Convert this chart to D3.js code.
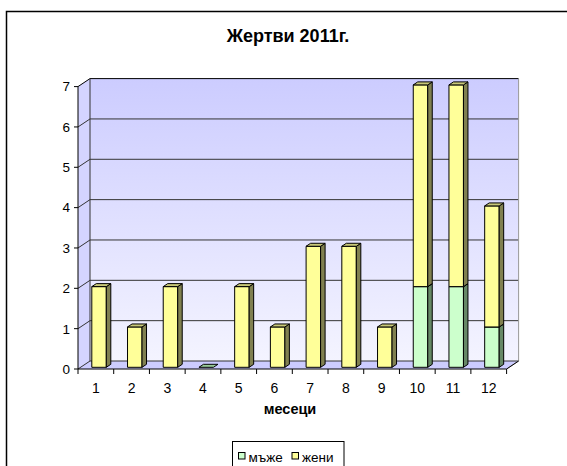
<!DOCTYPE html>
<html>
<head>
<meta charset="utf-8">
<script src="https://cdn.jsdelivr.net/npm/d3@7"></script>
<style>
  body { margin: 0; background: #fff; }
  svg { display: block; font-family: "Liberation Sans", Arial, sans-serif; }
</style>
</head>
<body>
<svg id="chart" width="567" height="466"></svg>
<script>
// data
var months = ["1", "2", "3", "4", "5", "6", "7", "8", "9", "10", "11", "12"];
var men = [0, 0, 0, 0, 0, 0, 0, 0, 0, 2, 2, 1];
var women = [2, 1, 2, 0, 2, 1, 3, 3, 1, 5, 5, 3];
var seriesNames = ["мъже", "жени"];
var yTicks = [0, 1, 2, 3, 4, 5, 6, 7];

var svg = d3.select("#chart");

// front plane + depth of the 3d box
var plotLeft = 78, plotRight = 506.6, plotBottom = 369, plotTop = 86.6;
var depth = { x: 12, y: -8 };
var barDepth = { x: 4.5, y: -3 };

var x = d3.scaleBand().domain(months).range([plotLeft, plotRight]).padding(0);
var y = d3.scaleLinear().domain([0, 7]).range([plotBottom, plotTop]);

var colors = [
    { front: "#ccffcc", side: "#668866", top: "#99cc99" },
    { front: "#ffff99", side: "#808050", top: "#c8c878" }
];

// outer chart frame
svg.append("rect")
    .attr("x", 6.5).attr("y", 11.5)
    .attr("width", 620).attr("height", 500)
    .attr("fill", "none").attr("stroke", "#000").attr("stroke-width", 1.5);

var defs = svg.append("defs");
var grad = defs.append("linearGradient")
    .attr("id", "wall").attr("x1", 0).attr("y1", 0).attr("x2", 0).attr("y2", 1);
grad.append("stop").attr("offset", "0%").attr("stop-color", "#ccccff");
grad.append("stop").attr("offset", "100%").attr("stop-color", "#f4f4ff");

var line = d3.line();

// back wall
svg.append("rect")
    .attr("x", plotLeft + depth.x).attr("y", plotTop + depth.y)
    .attr("width", plotRight - plotLeft).attr("height", plotBottom - plotTop)
    .attr("fill", "url(#wall)");

// left wall
svg.append("path")
    .attr("d", line([[plotLeft, plotBottom], [plotLeft + depth.x, plotBottom + depth.y],
        [plotLeft + depth.x, plotTop + depth.y], [plotLeft, plotTop]]) + "Z")
    .attr("fill", "#d4d4ff");

// floor
svg.append("path")
    .attr("d", line([[plotLeft, plotBottom], [plotRight, plotBottom],
        [plotRight + depth.x, plotBottom + depth.y], [plotLeft + depth.x, plotBottom + depth.y]]) + "Z")
    .attr("fill", "#ccccff");

// grid lines on the walls
yTicks.forEach(function (t) {
    svg.append("path")
        .attr("d", line([[plotLeft, y(t)], [plotLeft + depth.x, y(t) + depth.y], [plotRight + depth.x, y(t) + depth.y]]))
        .attr("fill", "none")
        .attr("stroke", t === 7 ? "#000" : "#333")
        .attr("stroke-width", 1);
});

// wall edges
svg.append("path")
    .attr("d", line([[plotRight + depth.x, plotTop + depth.y], [plotRight + depth.x, plotBottom + depth.y], [plotRight, plotBottom]]))
    .attr("fill", "none").attr("stroke", "#999");
svg.append("path")
    .attr("d", line([[plotLeft + depth.x, plotTop + depth.y], [plotLeft + depth.x, plotBottom + depth.y]]))
    .attr("fill", "none").attr("stroke", "#333");

// y axis
svg.append("line")
    .attr("x1", plotLeft).attr("x2", plotLeft).attr("y1", plotTop).attr("y2", plotBottom)
    .attr("stroke", "#000");
yTicks.forEach(function (t) {
    svg.append("line")
        .attr("x1", plotLeft - 4).attr("x2", plotLeft).attr("y1", y(t)).attr("y2", y(t))
        .attr("stroke", "#000");
    svg.append("text")
        .attr("x", plotLeft - 8).attr("y", y(t)).attr("dy", "0.36em")
        .attr("text-anchor", "end").attr("font-size", 13.5)
        .text(t);
});

// x axis
svg.append("line")
    .attr("x1", plotLeft).attr("x2", plotRight).attr("y1", plotBottom).attr("y2", plotBottom)
    .attr("stroke", "#000");
svg.append("line")
    .attr("x1", plotRight).attr("x2", plotRight + depth.x).attr("y1", plotBottom).attr("y2", plotBottom + depth.y)
    .attr("stroke", "#000");
months.forEach(function (m) {
    svg.append("line")
        .attr("x1", x(m)).attr("x2", x(m)).attr("y1", plotBottom).attr("y2", plotBottom + 5)
        .attr("stroke", "#000");
    svg.append("text")
        .attr("x", x(m) + x.bandwidth() / 2).attr("y", 393)
        .attr("text-anchor", "middle").attr("font-size", 14)
        .text(m);
});
svg.append("line")
    .attr("x1", plotRight).attr("x2", plotRight).attr("y1", plotBottom).attr("y2", plotBottom + 5)
    .attr("stroke", "#000");

// stacked 3d bars
var series = [men, women];
var bw = 14.5, bOff = 13.8, lift = -1.7;
months.forEach(function (m, i) {
    var total = men[i] + women[i];
    var base = 0;
    series.forEach(function (s, k) {
        var v = s[i];
        if (v === 0 && !(k === 0 && total === 0)) return;
        var x0 = x(m) + bOff, x1 = x0 + bw;
        var yb = y(base) + lift, yt = y(base + v) + lift;
        var c = colors[k];
        var g = svg.append("g").attr("stroke", "#000").attr("stroke-width", 1).attr("stroke-linejoin", "round");
        if (v > 0) {
            g.append("rect")
                .attr("x", x0).attr("y", yt).attr("width", bw).attr("height", yb - yt)
                .attr("fill", c.front);
            g.append("path")
                .attr("d", line([[x1, yb], [x1 + barDepth.x, yb + barDepth.y],
                    [x1 + barDepth.x, yt + barDepth.y], [x1, yt]]) + "Z")
                .attr("fill", c.side);
        }
        g.append("path")
            .attr("d", line([[x0, yt], [x1, yt], [x1 + barDepth.x, yt + barDepth.y],
                [x0 + barDepth.x, yt + barDepth.y]]) + "Z")
            .attr("fill", c.top);
        base += v;
    });
});

// title
svg.append("text")
    .attr("x", 288).attr("y", 41.5)
    .attr("text-anchor", "middle").attr("font-size", 18).attr("font-weight", "bold")
    .text("Жертви 2011г.");

// x axis title
svg.append("text")
    .attr("x", 290).attr("y", 414)
    .attr("text-anchor", "middle").attr("font-size", 14.5).attr("font-weight", "bold")
    .text("месеци");

// legend
var legend = svg.append("g");
legend.append("rect")
    .attr("x", 232.5).attr("y", 441.5).attr("width", 111.5).attr("height", 40)
    .attr("fill", "#fff").attr("stroke", "#000");
var legX = [238.5, 292];
seriesNames.forEach(function (name, k) {
    legend.append("rect")
        .attr("x", legX[k]).attr("y", 452.5).attr("width", 6.5).attr("height", 6.5)
        .attr("fill", colors[k].front).attr("stroke", "#000");
    legend.append("text")
        .attr("x", legX[k] + 10).attr("y", 461.5)
        .attr("font-size", 13.5)
        .text(name);
});
</script>
</body>
</html>
